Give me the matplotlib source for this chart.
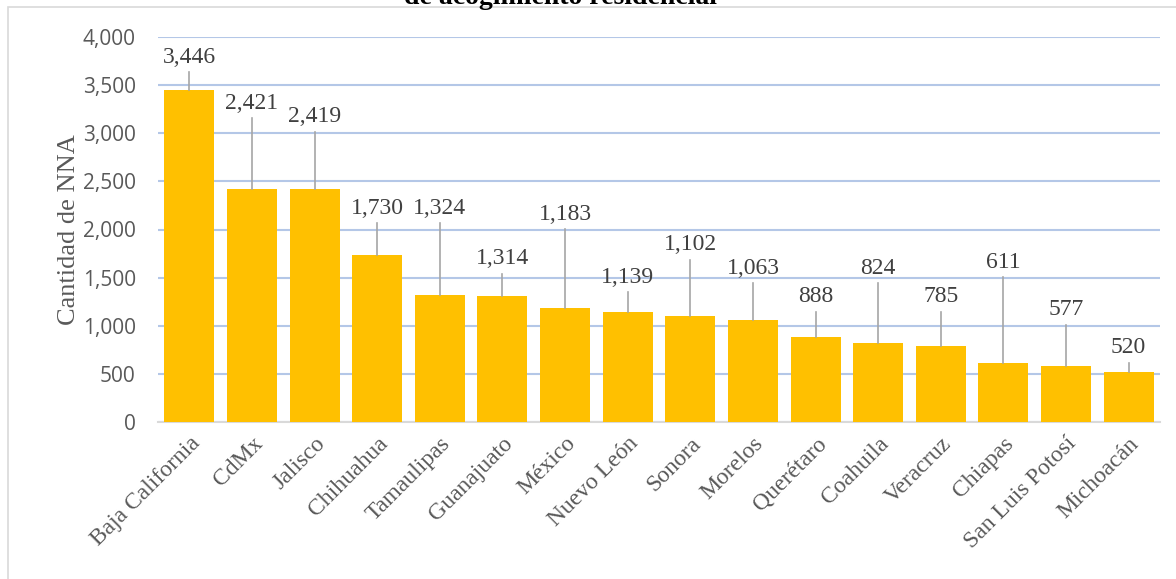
import matplotlib.pyplot as plt
from matplotlib.patches import Rectangle
from matplotlib.ticker import FuncFormatter

# Data
estados = ['Baja California', 'CdMx', 'Jalisco', 'Chihuahua', 'Tamaulipas', 'Guanajuato',
           'México', 'Nuevo León', 'Sonora', 'Morelos', 'Querétaro', 'Coahuila',
           'Veracruz', 'Chiapas', 'San Luis Potosí', 'Michoacán']
cantidad = [3446, 2421, 2419, 1730, 1324, 1314, 1183, 1139, 1102, 1063, 888, 824, 785, 611, 577, 520]

# where each data label sits (layout only)
label_y = [3792, 3314, 3169, 2223, 2223, 1694, 2161, 1506, 1839, 1600, 1299, 1600, 1299, 1662, 1164, 769]

fig = plt.figure(figsize=(11.76, 5.79), dpi=100)
ax = fig.add_axes([158 / 1176, 1 - 422 / 579, 1002 / 1176, 385 / 579])

x = range(len(estados))
ax.bar(x, cantidad, width=0.8, color='#ffc000', zorder=3)
ax.set_xlim(-0.5, len(estados) - 0.5)
ax.set_ylim(0, 4000)
ax.set_yticks(range(0, 4001, 500))
ax.yaxis.set_major_formatter(FuncFormatter(lambda v, p: f'{int(v):,}'))
ax.grid(axis='y', color='#b4c7e7', linewidth=1.5, zorder=0)
ax.tick_params(axis='y', length=0, pad=16, labelsize=15, labelcolor='#595959')
for t in ax.get_yticklabels():
    t.set_family('Open Sans')
ax.tick_params(axis='x', length=0, pad=8)
ax.set_xticks(list(x))
ax.set_xticklabels(estados, rotation=45, ha='right', rotation_mode='anchor',
                   family='Liberation Serif', fontsize=17, color='#595959')
for s in ['top', 'right', 'left']:
    ax.spines[s].set_visible(False)
ax.spines['bottom'].set_color('#d9d9d9')
ax.spines['bottom'].set_linewidth(1.5)

ax.set_ylabel('Cantidad de NNA', family='Liberation Serif', fontsize=19, color='#595959', labelpad=2)

# data labels with leader lines
for i, (v, ly) in enumerate(zip(cantidad, label_y)):
    ax.text(i, ly, f'{v:,}', ha='center', va='center', family='Liberation Serif',
            fontsize=17, color='#404040', zorder=5)
    top = ly - 160
    if top > v + 60:
        ax.plot([i, i], [v, top], color='#a6a6a6', linewidth=1.2, zorder=4)

# title (cut off at top, like the reference)
fig.text(560 / 1176, 1 - 4 / 579, 'de acogimiento residencial', ha='center', va='baseline',
         family='Liberation Serif', fontweight='bold', fontsize=20, color='black')

# outer chart frame
fig.patches.append(Rectangle((8 / 1176, -0.1), 1.2, 1 - 7 / 579 + 0.1, transform=fig.transFigure,
                             fill=False, edgecolor='#d9d9d9', linewidth=1.2))

fig.savefig('out.png', dpi=100)
